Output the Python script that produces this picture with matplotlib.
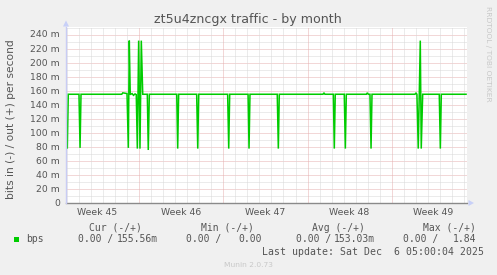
import matplotlib
matplotlib.use("Agg")
import matplotlib.pyplot as plt

# =========================
# Datos
# =========================
# días contados desde el lunes de la semana 45
DIAS = [1.00, 1.08, 1.97, 2.06, 2.14, 5.53, 5.62, 5.97, 6.08, 6.16,
        6.24, 6.39, 6.51, 6.64, 6.74, 6.83, 6.94, 7.05, 7.16, 7.28,
        7.66, 7.74, 7.83, 10.11, 10.19, 10.27, 11.77, 11.86, 11.94, 14.35,
        14.44, 14.52, 16.05, 16.13, 16.21, 18.48, 18.57, 18.65, 22.29, 22.37,
        22.45, 23.15, 23.23, 23.31, 24.06, 24.15, 24.23, 25.90, 25.98, 26.06,
        26.20, 26.29, 26.37, 29.95, 30.03, 30.11, 30.22, 30.39, 30.47, 30.59,
        31.97, 32.06, 32.14, 34.20]
BPS_OUT = [79, 155.5, 155.5, 79, 155.5, 155.5, 157.5, 156.5, 79, 232,
           155, 156.5, 154, 156, 155, 78, 232, 78, 232, 155.5,
           155.5, 76, 155.5, 155.5, 78, 155.5, 155.5, 78, 155.5, 155.5,
           78, 155.5, 155.5, 78, 155.5, 155.5, 78, 155.5, 155.5, 157.5,
           155.5, 155.5, 78, 155.5, 155.5, 78, 155.5, 155.5, 157.5, 155.5,
           155.5, 78, 155.5, 155.5, 157.5, 155.5, 78, 232, 78, 155.5,
           155.5, 78, 155.5, 155.5]
BPS_IN = [0, 0]
DIAS_IN = [1.00, 34.20]

Y_TICKS = [0, 20, 40, 60, 80, 100, 120, 140, 160, 180, 200, 220, 240]
SEMANAS = ["Week 45", "Week 46", "Week 47", "Week 48", "Week 49"]

COLUMNAS = ["Cur (-/+)", "Min (-/+)", "Avg (-/+)", "Max (-/+)"]
VALORES_IN = ["0.00 /", "0.00 /", "0.00 /", "0.00 /"]
VALORES_OUT = ["155.56m", "0.00", "153.03m", "1.84"]

W, H = 497, 275
GRIS = "#555555"
VERDE = "#00CC00"


def fx(px):
    return px / W


def fy(py):
    return 1 - py / H


fig = plt.figure(figsize=(W / 100, H / 100), dpi=100)
fig.patch.set_facecolor("#F0F0F0")

ax = fig.add_axes([fx(66), fy(203.3), 401 / W, 176.3 / H])
ax.set_facecolor("white")
for s in ax.spines.values():
    s.set_visible(False)
ax.set_xticks([])
ax.set_yticks([])
ax.set_xlim(0.89, 34.28)
ax.set_ylim(0, 251.4)

# grilla
punteado = (0, (1, 1))
for v in range(10, 260, 10):
    color = "#E6B0B0" if v % 20 == 0 else "#D8D8D8"
    ax.axhline(v, color=color, lw=0.72, ls=punteado, zorder=1)
for d in range(1, 35):
    color = "#E6B0B0" if d % 7 == 0 else "#D8D8D8"
    ax.axvline(d, color=color, lw=0.72, ls=punteado, zorder=1)

# series (la entrada queda tapada por la línea del eje)
ax.plot(DIAS_IN, BPS_IN, color=VERDE, lw=0.6, zorder=2)
ax.plot(DIAS, BPS_OUT, color=VERDE, lw=1.1, zorder=3, solid_joinstyle="miter")

# ejes
ax.axhline(0, color="#8A8A8A", lw=1.0, zorder=4, clip_on=False)
ax.axvline(0.89, color="#C8CCF4", lw=1.0, zorder=4, clip_on=False)
fig.patches.append(plt.Polygon([[fx(63), fy(26.5)], [fx(69), fy(26.5)], [fx(66), fy(20.5)]],
                               closed=True, transform=fig.transFigure,
                               facecolor="#C8D0F8", edgecolor="none"))
fig.patches.append(plt.Polygon([[fx(468.5), fy(200)], [fx(468.5), fy(206)], [fx(474), fy(203)]],
                               closed=True, transform=fig.transFigure,
                               facecolor="#C8D0F8", edgecolor="none"))

# etiquetas del eje y
for v in Y_TICKS:
    etiqueta = "0" if v == 0 else f"{v} m"
    ax.text(0.89 - 6 / 12.01, v, etiqueta, ha="right", va="center",
            fontsize=6.7, color=GRIS, clip_on=False)

# etiquetas de semana
for i, nombre in enumerate(SEMANAS):
    ax.text(3.5 + 7 * i, -8.8 / 176.3, nombre, ha="center", va="center", fontsize=6.7,
            color=GRIS, transform=ax.get_xaxis_transform(), clip_on=False)

fig.text(fx(248.3), fy(19.5), "zt5u4zncgx traffic - by month", ha="center", va="center",
         fontsize=9.1, color=GRIS)
fig.text(fx(11), fy(119), "bits in (-) / out (+) per second", ha="center", va="center",
         rotation=90, fontsize=7.7, color=GRIS)
fig.text(fx(488), fy(53.5), "RRDTOOL / TOBI OETIKER", ha="center", va="center",
         rotation=-90, fontsize=5.4, color="#C8C8C8")

# leyenda
mono = "DejaVu Sans Mono"
inicio_col = [89.3, 200.7, 312.3, 422.7]
inicio_val = [78.3, 186.0, 295.7, 403.3]
fin_val = [157.7, 262.0, 375.0, 476.7]
for i in range(4):
    fig.text(fx(inicio_col[i]), fy(227.7), COLUMNAS[i], ha="left", va="center",
             fontsize=7.0, family=mono, color=GRIS)
    fig.text(fx(inicio_val[i]), fy(239.3), VALORES_IN[i], ha="left", va="center",
             fontsize=7.0, family=mono, color=GRIS)
    fig.text(fx(fin_val[i]), fy(239.3), VALORES_OUT[i], ha="right", va="center",
             fontsize=7.0, family=mono, color=GRIS)

fig.patches.append(plt.Rectangle((fx(14), fy(242)), 5 / W, 5 / H, transform=fig.transFigure,
                                 facecolor=VERDE, edgecolor="none"))
fig.text(fx(26.3), fy(239.3), "bps", ha="left", va="center", fontsize=7.0,
         family=mono, color=GRIS)
fig.text(fx(261.7), fy(251.7), "Last update: Sat Dec  6 05:00:04 2025", ha="left",
         va="center", fontsize=7.1, family=mono, color=GRIS)
fig.text(fx(248), fy(265), "Munin 2.0.73", ha="center", va="center", fontsize=5.4,
         color="#C8C8C8")

fig.savefig("out.png", dpi=100, facecolor=fig.get_facecolor())
